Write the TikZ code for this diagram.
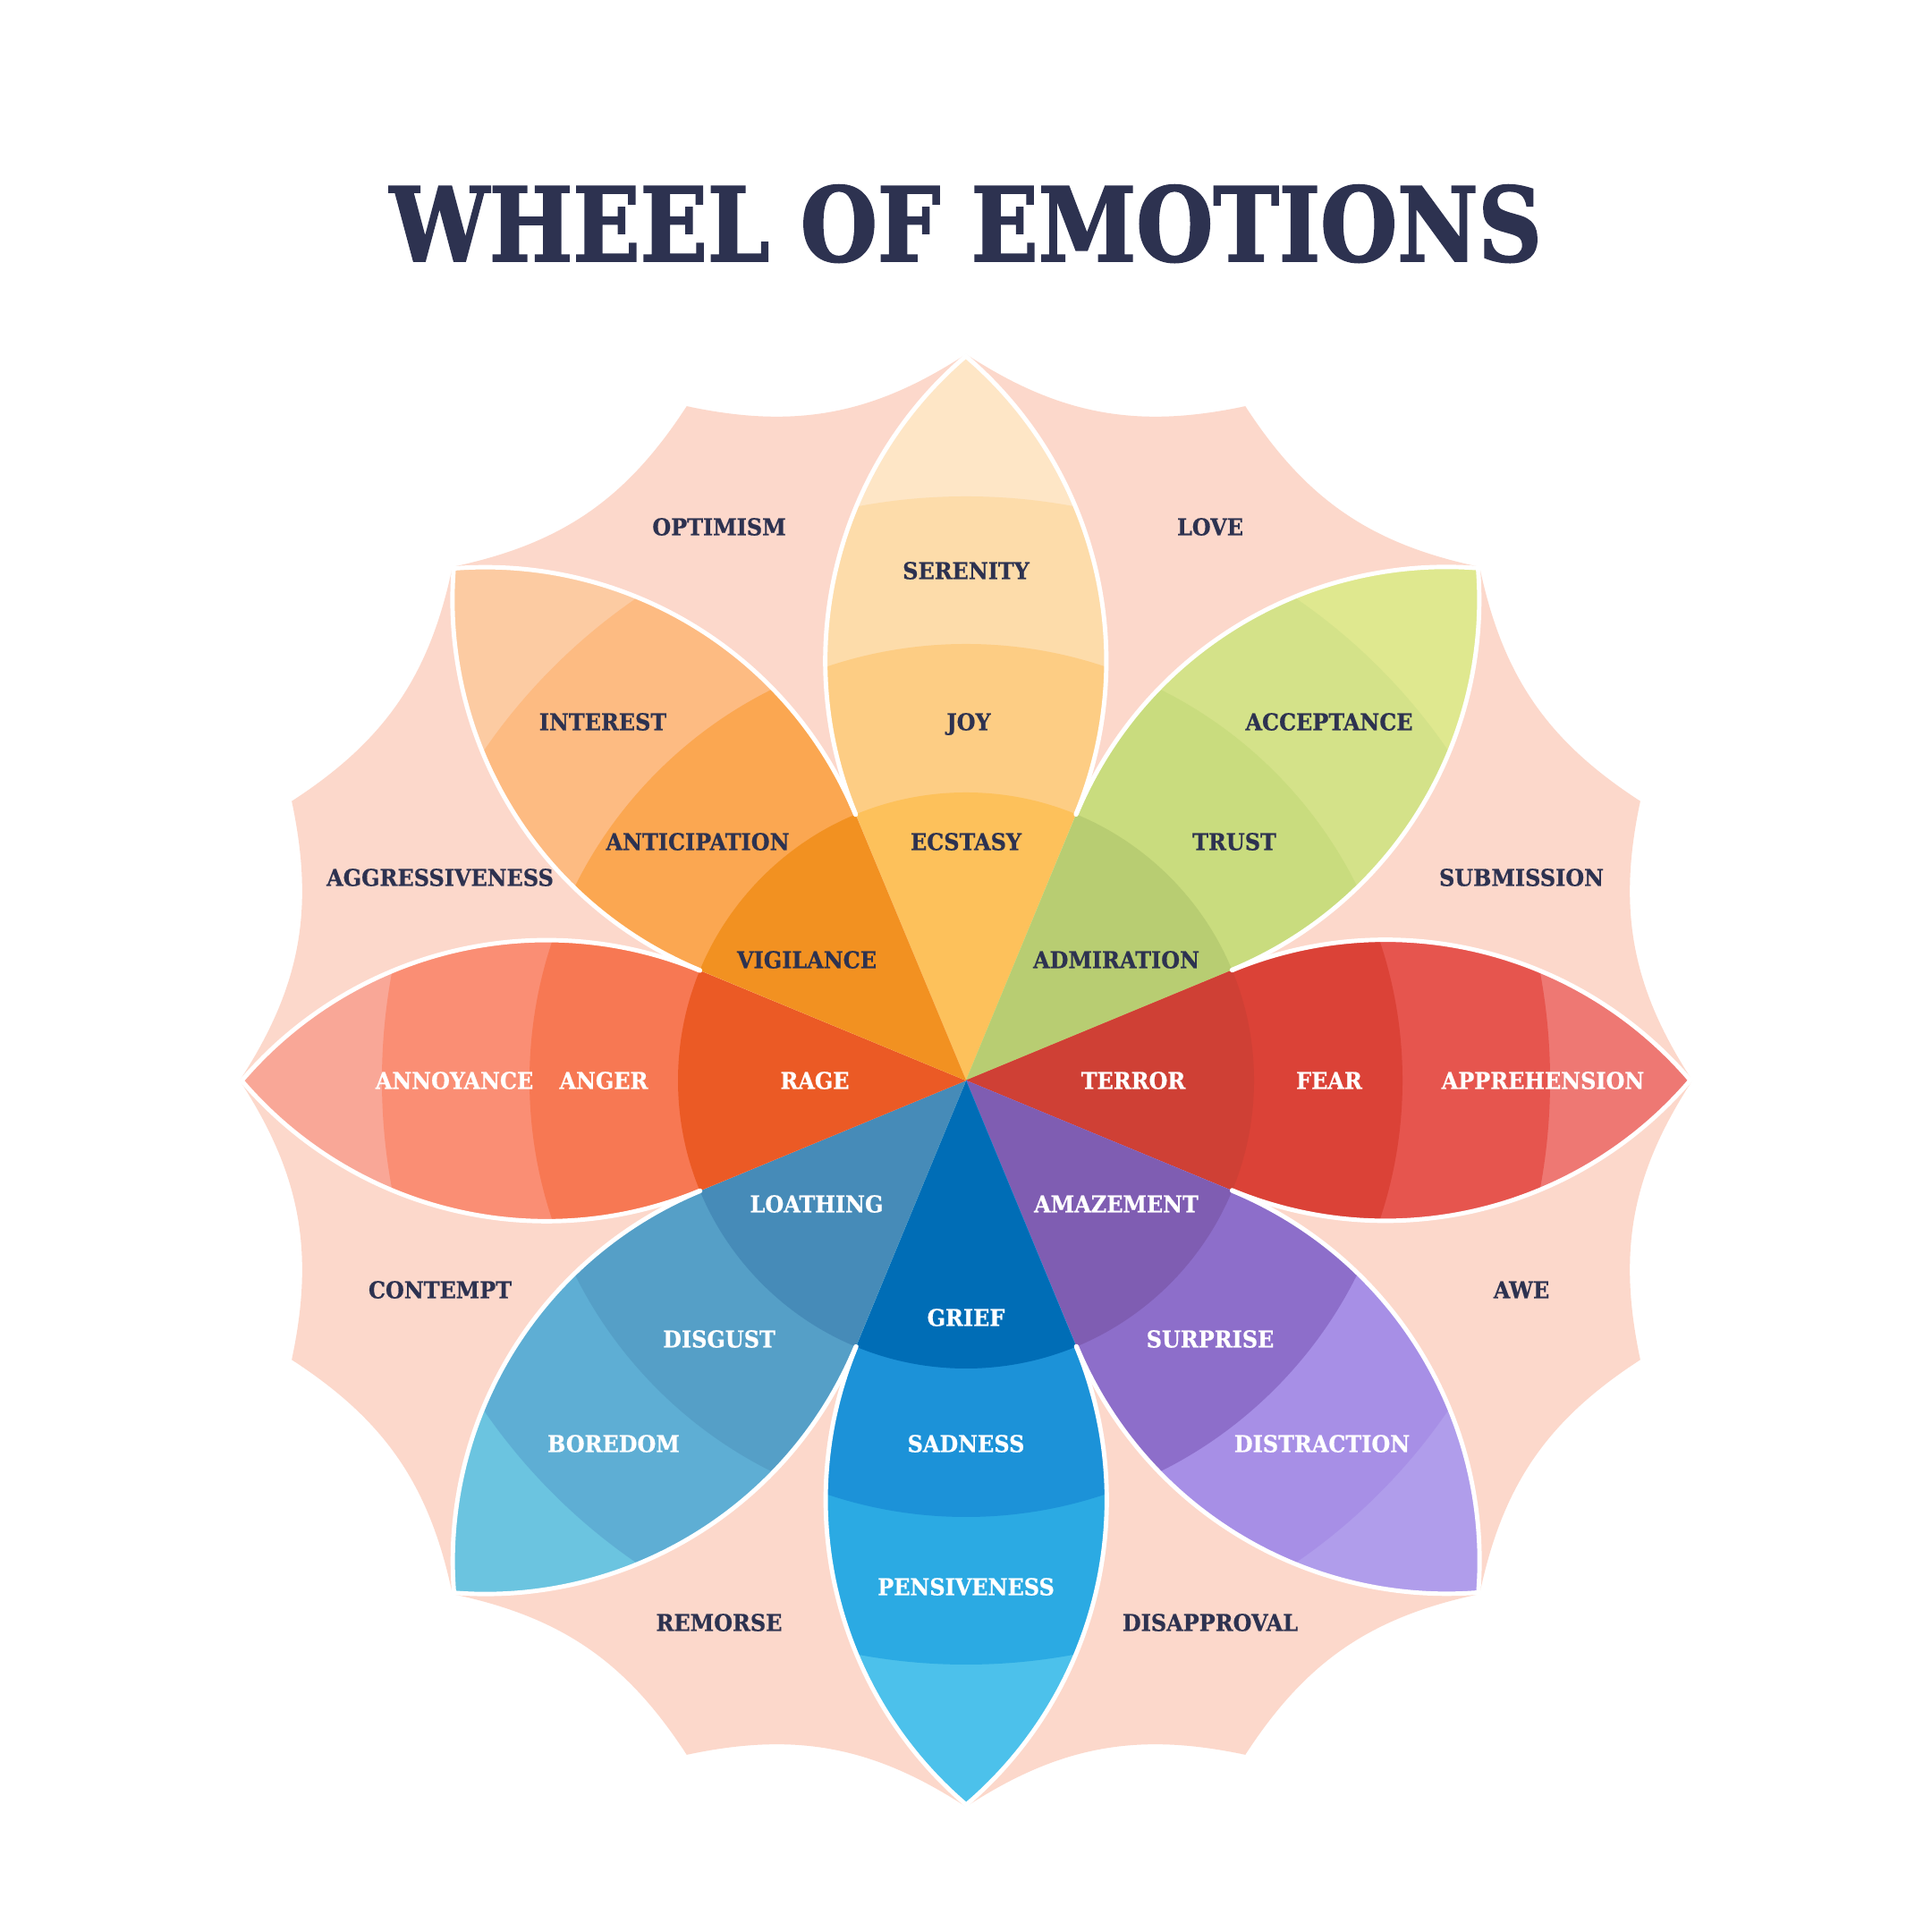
\documentclass[tikz,border=0pt]{standalone}
\usepackage{fontspec}
\setmainfont{DejaVu Serif}
\newfontfamily\emofont[FakeStretch=0.92, BoldFeatures={FakeBold=0.6}]{DejaVu Serif}
\newfontfamily\titlefont[FakeStretch=0.86, BoldFeatures={FakeBold=1.6}]{DejaVu Serif}

\definecolor{ink}{HTML}{2D3250}
\definecolor{dyad}{HTML}{FCD8CB}
% joy
\definecolor{yelA}{HTML}{FDC15B}\definecolor{yelB}{HTML}{FDCD84}
\definecolor{yelC}{HTML}{FDDCAA}\definecolor{yelD}{HTML}{FEE6C6}
% trust
\definecolor{grnA}{HTML}{B8CD72}\definecolor{grnB}{HTML}{C9DC7E}
\definecolor{grnC}{HTML}{D4E289}\definecolor{grnD}{HTML}{DFE88F}
% fear
\definecolor{redA}{HTML}{CF4035}\definecolor{redB}{HTML}{DB4237}
\definecolor{redC}{HTML}{E6554E}\definecolor{redD}{HTML}{EE7873}
% surprise
\definecolor{purA}{HTML}{7F5DB2}\definecolor{purB}{HTML}{8D6ECA}
\definecolor{purC}{HTML}{A78FE6}\definecolor{purD}{HTML}{B09DEB}
% sadness
\definecolor{bluA}{HTML}{006DB6}\definecolor{bluB}{HTML}{1C92D8}
\definecolor{bluC}{HTML}{2BAAE3}\definecolor{bluD}{HTML}{4CC1EB}
% disgust
\definecolor{tealA}{HTML}{468BB8}\definecolor{tealB}{HTML}{559FC7}
\definecolor{tealC}{HTML}{5EAED4}\definecolor{tealD}{HTML}{6BC4E0}
% anger
\definecolor{angA}{HTML}{EB5A25}\definecolor{angB}{HTML}{F77853}
\definecolor{angC}{HTML}{FA8E74}\definecolor{angD}{HTML}{F9A797}
% anticipation
\definecolor{orgA}{HTML}{F29121}\definecolor{orgB}{HTML}{FBA751}
\definecolor{orgC}{HTML}{FDBB82}\definecolor{orgD}{HTML}{FCCBA2}

% one petal, pointing up, centre of the wheel at the origin
\def\petalpath{(0,0) -- (112.5:3.22)
  arc[start angle=202.5, end angle=130.5, radius=4.482]
  arc[start angle=49.5, end angle=-22.5, radius=4.482] -- cycle}
\def\petaledge{(112.5:3.22)
  arc[start angle=202.5, end angle=130.5, radius=4.482]
  arc[start angle=49.5, end angle=-22.5, radius=4.482]}

\begin{document}
\begin{tikzpicture}[
    lbl/.style = {font=\emofont\bfseries\fontsize{7.4}{8}\selectfont,
                  text=ink, anchor=base, yshift=-0.095cm},
    lbw/.style = {lbl, text=white},
    rim/.style = {draw=white, line width=1.4pt, line cap=round},
  ]
\useasboundingbox (0,0) rectangle (21.6,21.6);
\fill[white] (0,0) rectangle (21.6,21.6);
\coordinate (ctr) at (10.8,9.52);

\node[font=\titlefont\bfseries\fontsize{32.7}{36}\selectfont, text=ink,
      anchor=base] (title) at (10.8,18.68) {WHEEL OF EMOTIONS};

% background of the dyads
\fill[dyad, shift={(ctr)}] (0:8.12)
  \foreach \k in {0,...,7}{
    to[bend left=22.6] ({\k*45+22.5}:8.16)
    to[bend left=22.6] ({\k*45+45}:8.12)
  };

% petals
\foreach \ang/\ca/\cb/\cc/\cd in {90/yelA/yelB/yelC/yelD, 45/grnA/grnB/grnC/grnD,
    0/redA/redB/redC/redD, -45/purA/purB/purC/purD, -90/bluA/bluB/bluC/bluD,
    -135/tealA/tealB/tealC/tealD, 180/angA/angB/angC/angD, 135/orgA/orgB/orgC/orgD}{
  \begin{scope}[shift={(ctr)}, rotate=\ang-90]
    \clip \petalpath;
    \fill[\cd] (0,0) circle (8.3);
    \fill[\cc] (0,0) circle (6.53);
    \fill[\cb] (0,0) circle (4.88);
    \fill[\ca] (0,0) circle (3.22);
  \end{scope}
}
\foreach \ang in {90,45,...,-225}
  \draw[rim, shift={(ctr)}, rotate=\ang-90] \petaledge;

% dark labels
\foreach \nm/\x/\y/\txt in {
    serenity/0/5.70/SERENITY, joy/0.03/4.01/JOY, ecstasy/0/2.67/ECSTASY,
    interest/-4.06/4.01/INTEREST, anticipation/-3.00/2.67/ANTICIPATION,
    vigilance/-1.78/1.35/VIGILANCE,
    acceptance/4.06/4.01/ACCEPTANCE, trust/3.00/2.67/TRUST,
    admiration/1.68/1.35/ADMIRATION,
    optimism/-2.76/6.19/OPTIMISM, love/2.73/6.19/LOVE,
    aggressiveness/-5.88/2.27/AGGRESSIVENESS, submission/6.21/2.27/SUBMISSION,
    contempt/-5.88/-2.34/CONTEMPT, awe/6.21/-2.34/AWE,
    remorse/-2.76/-6.06/REMORSE, disapproval/2.73/-6.06/DISAPPROVAL}
  \node[lbl] (\nm) at ([shift={(\x,\y)}]ctr) {\txt};

% white labels
\foreach \nm/\x/\y/\txt in {
    rage/-1.69/0/RAGE, anger/-4.05/0/ANGER, annoyance/-5.72/0/ANNOYANCE,
    terror/1.87/0/TERROR, fear/4.06/0/FEAR, apprehension/6.45/0/APPREHENSION,
    loathing/-1.67/-1.38/LOATHING, disgust/-2.76/-2.89/DISGUST,
    boredom/-3.94/-4.06/BOREDOM,
    grief/0/-2.65/GRIEF, sadness/0/-4.06/SADNESS, pensiveness/0/-5.66/PENSIVENESS,
    amazement/1.68/-1.38/AMAZEMENT, surprise/2.73/-2.89/SURPRISE,
    distraction/3.98/-4.06/DISTRACTION}
  \node[lbw] (\nm) at ([shift={(\x,\y)}]ctr) {\txt};
\end{tikzpicture}
\end{document}
